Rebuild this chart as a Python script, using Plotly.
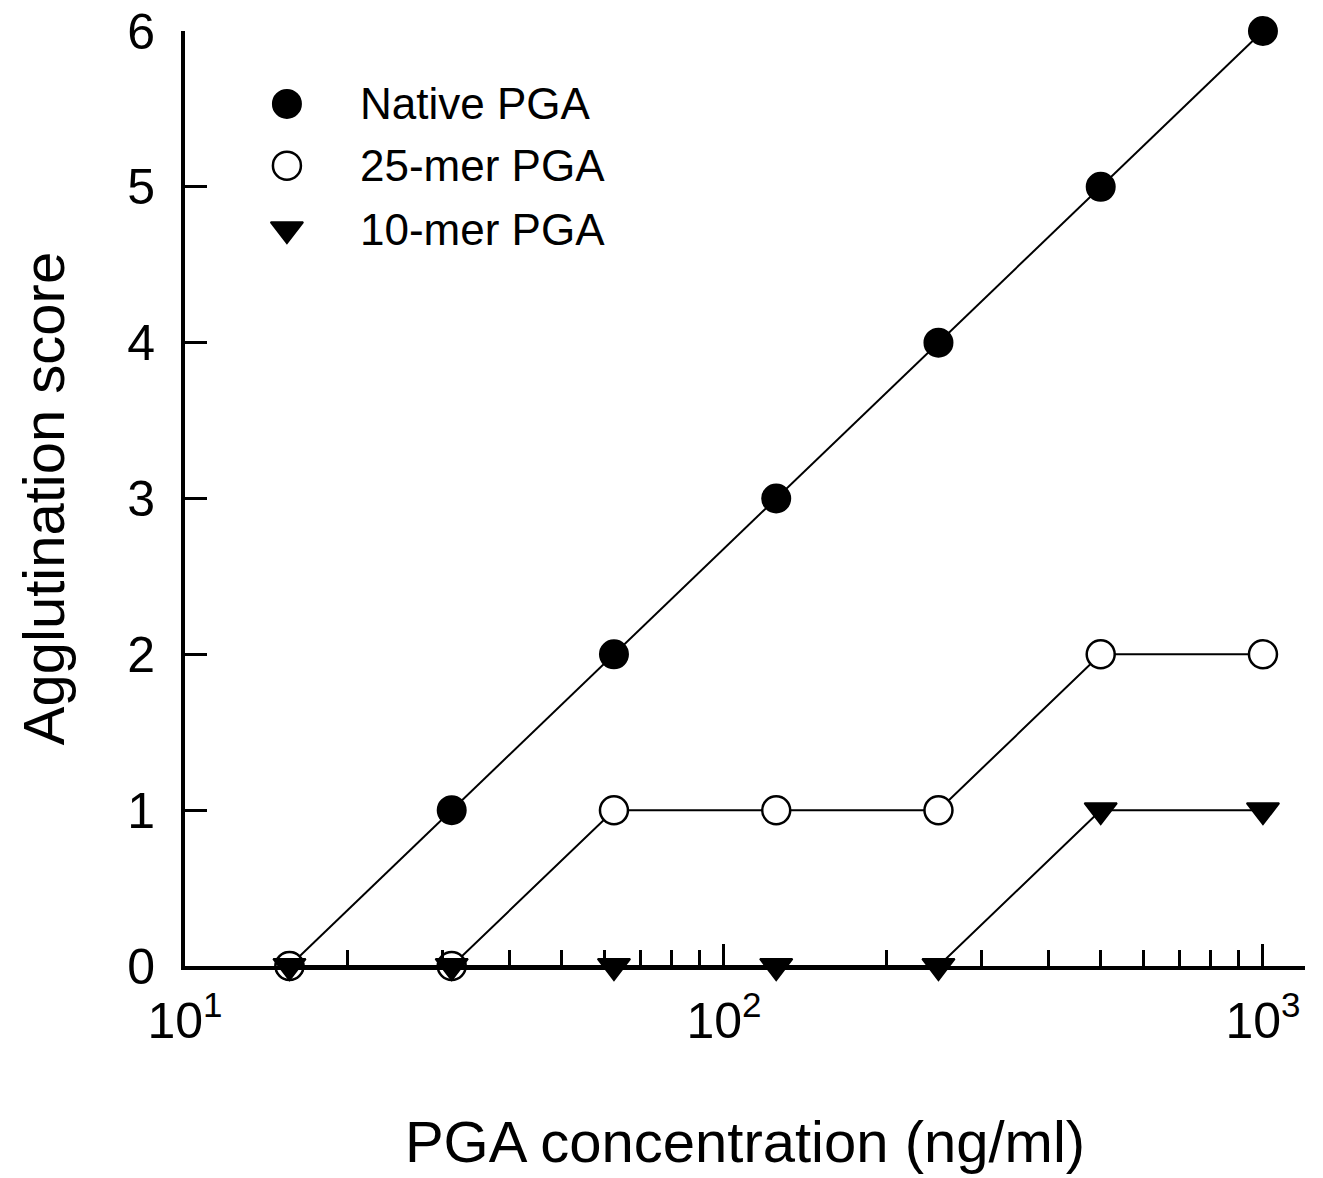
import plotly.graph_objects as go

# ---- data ----
concentration = [15.625, 31.25, 62.5, 125, 250, 500, 1000]   # ng/ml
native_pga = [0, 1, 2, 3, 4, 5, 6]
mer25_pga = [0, 0, 1, 1, 1, 2, 2]
mer10_pga = [0, 0, 0, 0, 0, 1, 1]
series_names = ["Native PGA", "25-mer PGA", "10-mer PGA"]
y_tickvals = [0, 1, 2, 3, 4, 5, 6]
x_tickvals = [10, 100, 1000]
x_ticktext = ["10<sup>1</sup>", "10<sup>2</sup>", "10<sup>3</sup>"]
x_minor_vals = [m * 10 ** e for e in (1, 2) for m in range(2, 10)]

FONT = "Liberation Sans, Arial, sans-serif"
MSIZE = 28

styles = [
    dict(symbol="circle", color="black", line=dict(color="black", width=2)),
    dict(symbol="circle", color="white", line=dict(color="black", width=2.5)),
    dict(symbol="triangle-down", color="black", line=dict(color="black", width=2)),
]
series = [native_pga, mer25_pga, mer10_pga]

fig = go.Figure()
for name, vals, st in zip(series_names, series, styles):
    fig.add_trace(go.Scatter(
        x=concentration, y=vals, name=name, mode="lines+markers",
        line=dict(color="black", width=2),
        marker=dict(size=MSIZE, symbol=st["symbol"], color=st["color"], line=st["line"]),
        cliponaxis=False, showlegend=False,
    ))

# ---- manual legend (large markers) on helper axes ----
leg_x = 0.091
leg_y = [0.922, 0.856, 0.788]
for name, st, ly in zip(series_names, styles, leg_y):
    fig.add_trace(go.Scatter(
        x=[leg_x], y=[ly], mode="markers", xaxis="x2", yaxis="y2",
        marker=dict(size=MSIZE, symbol=st["symbol"], color=st["color"], line=st["line"]),
        cliponaxis=False, showlegend=False, hoverinfo="skip",
    ))
    fig.add_annotation(x=0.1545, y=ly, xref="x2", yref="y2", text=name, showarrow=False,
                       xanchor="left", yanchor="middle",
                       font=dict(family=FONT, size=44, color="black"))

axis_common = dict(
    showline=True, linecolor="black", linewidth=4,
    ticks="inside", ticklen=22, tickwidth=2.5, tickcolor="black",
    showgrid=False, zeroline=False, automargin=False,
    ticklabeloverflow="allow",
    tickfont=dict(family=FONT, size=50, color="black"),
)

# page body has an 8px default margin, so the figure is sized/offset to compensate
fig.update_layout(
    width=1315, height=1170,
    margin=dict(l=177, r=18, t=23, b=212),
    paper_bgcolor="white", plot_bgcolor="white",
    font=dict(family=FONT, color="black"),
    xaxis=dict(
        type="log", range=[1, 3.078],
        tickmode="array", tickvals=x_tickvals, ticktext=x_ticktext,
        ticklabelstandoff=8,
        minor=dict(tickmode="array", tickvals=x_minor_vals, ticks="inside",
                   ticklen=16, tickwidth=2.5, tickcolor="black"),
        title=dict(text="PGA concentration (ng/ml)", font=dict(family=FONT, size=58), standoff=74),
        **axis_common,
    ),
    yaxis=dict(
        range=[0, 6], tickmode="array", tickvals=y_tickvals,
        ticklabelstandoff=16,
        title=dict(text="Agglutination score", font=dict(family=FONT, size=58), standoff=45),
        **axis_common,
    ),
    xaxis2=dict(overlaying="x", range=[0, 1], visible=False),
    yaxis2=dict(overlaying="y", range=[0, 1], visible=False),
)

fig.write_html("out.html")
